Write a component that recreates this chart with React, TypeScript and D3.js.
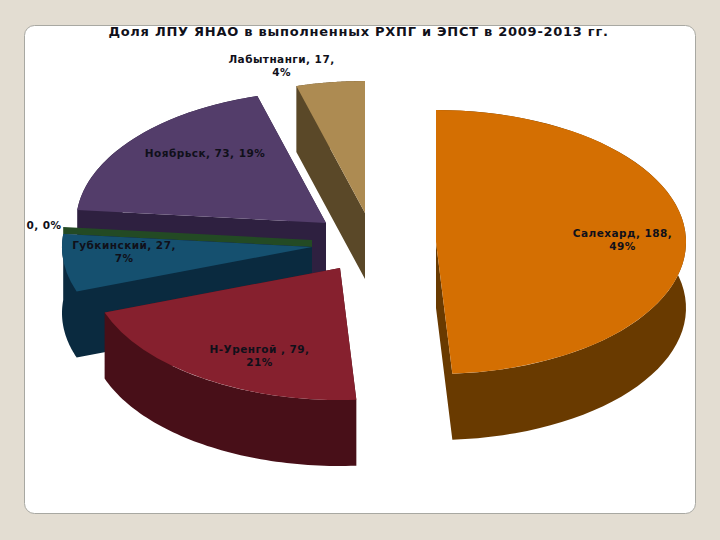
import * as d3 from "d3";

const cities = ["Салехард", "Н-Уренгой ", "Губкинский", "", "Ноябрьск", "Лабытнанги"];
const counts = [188, 79, 27, 0, 73, 17];
const labelLines = [
  ["Салехард, 188,", "49%"],
  ["Н-Уренгой , 79,", "21%"],
  ["Губкинский, 27,", "7%"],
  ["0, 0%"],
  ["Ноябрьск, 73, 19%"],
  ["Лабытнанги, 17,", "4%"],
];
const title = "Доля ЛПУ ЯНАО в выполненных РХПГ и ЭПСТ в 2009-2013 гг.";

// layout, kept apart from the values
const width = 720;
const height = 540;
const rx = 250;
const ry = 132;
const depth = 66;
const zeroBand = 7;
const apexes = [
  [436, 242],
  [340, 268],
  [312, 247],
  [312, 247],
  [326, 223],
  [365, 213],
];
const labelPos = [
  [622.5, 237],
  [259.5, 353],
  [124, 249],
  [44, 228.5],
  [205, 157],
  [281.5, 62.5],
];
const topColors = ["#d46f02", "#86202e", "#15506f", "#234a24", "#533d6a", "#ad8b52"];
const wallColors = ["#693a00", "#480f18", "#0a2a3f", "#234a24", "#2e2040", "#5a4828"];
const drawOrder = [5, 4, 3, 2, 0, 1];

const pie = d3
  .pie<number>()
  .value((d) => d)
  .sort(null);
const slices = pie(counts);

const arc = d3
  .arc<d3.PieArcDatum<number>>()
  .innerRadius(0)
  .outerRadius(rx);

type Pt = [number, number];

// point on the top rim for a pie angle, relative to the slice apex
const rim = (a: number): Pt => [rx * Math.sin(a), -ry * Math.cos(a)];

const line = d3.line();

// same winding for every piece, so one path has no seams between them
function polygonPath(points: Pt[]) {
  const ordered = d3.polygonArea(points) < 0 ? [...points].reverse() : points;
  return line(ordered) + "Z";
}

function rimBand(a0: number, a1: number, drop: number) {
  const angles = d3.range(0, 61).map((i) => a0 + ((a1 - a0) * i) / 60);
  const upper = angles.map(rim);
  const lower = upper.map(([x, y]) => [x, y + drop] as Pt).reverse();
  return polygonPath([...upper, ...lower]);
}

function edgeBand(a: number, top: number, bottom: number) {
  const [x, y] = rim(a);
  return polygonPath([
    [0, top],
    [x, y + top],
    [x, y + bottom],
    [0, bottom],
  ]);
}

const labelFont = {
  fontFamily: "'DejaVu Sans', sans-serif",
  fontWeight: 700,
  fontSize: 10.5,
  letterSpacing: 0.45,
  fill: "#10101a",
};

export default function App() {
  return (
    <svg
      width={width}
      height={height}
      viewBox={`0 0 ${width} ${height}`}
      style={{ position: "absolute", left: 0, top: 0 }}
    >
      <rect width={width} height={height} fill="#e3ddd2" />
      <rect
        x={24.5}
        y={25.5}
        width={671}
        height={488}
        rx={10}
        fill="#fff"
        stroke="#a8a8a2"
      />
      {drawOrder.map((i) => {
        const s = slices[i];
        const [cx, cy] = apexes[i];
        if (s.value === 0) {
          // Excel leaves a thin strip for the empty slice
          return (
            <path
              key={i}
              transform={`translate(${cx},${cy})`}
              d={edgeBand(s.startAngle, -zeroBand, 0)}
              fill={topColors[i]}
            />
          );
        }
        return (
          <g key={i} transform={`translate(${cx},${cy})`}>
            <path
              d={
                rimBand(s.startAngle, s.endAngle, depth) +
                edgeBand(s.startAngle, 0, depth) +
                edgeBand(s.endAngle, 0, depth)
              }
              fill={wallColors[i]}
            />
            <path
              transform={`scale(1,${ry / rx})`}
              d={arc(s) as string}
              fill={topColors[i]}
            />
          </g>
        );
      })}
      <text
        x={358.5}
        y={36}
        textAnchor="middle"
        style={{ ...labelFont, fontSize: 13, letterSpacing: 0.73 }}
      >
        {title}
      </text>
      {labelLines.map((lines, i) => (
        <text
          key={cities[i] + i}
          x={labelPos[i][0]}
          y={labelPos[i][1]}
          textAnchor="middle"
          style={labelFont}
        >
          {lines.map((line, j) => (
            <tspan key={j} x={labelPos[i][0]} dy={j === 0 ? 0 : 13}>
              {line}
            </tspan>
          ))}
        </text>
      ))}
    </svg>
  );
}
